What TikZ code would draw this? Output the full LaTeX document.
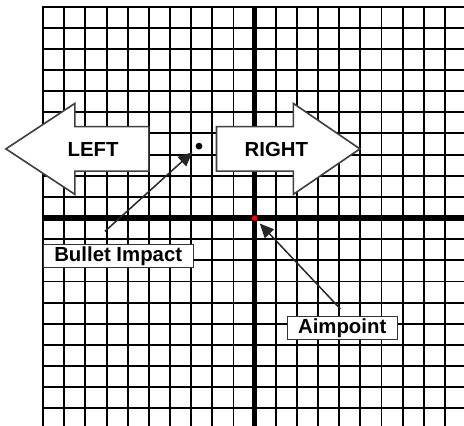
\documentclass[tikz,border=0pt]{standalone}
\usepackage{fontspec}
\setmainfont{Liberation Sans}
\usepackage{tikz}
\usetikzlibrary{arrows.meta}

\begin{document}
\begin{tikzpicture}[x=0.5cm, y=0.5cm,
        gridline/.style={line width=1.3pt, black, line cap=rect},
        axisline/.style={line width=3.8pt, black},
        dirarrow/.style={draw=black!75, line width=1.1pt, fill=white, line join=miter},
        dirlabel/.style={inner sep=0pt, font=\bfseries\fontsize{13.7}{16}\selectfont},
        tag/.style={draw=black!80, line width=0.7pt, fill=white, inner sep=0pt, font=\bfseries\fontsize{13.7}{16}\selectfont},
        pointer/.style={-{Triangle[length=9.5pt, width=8.5pt]}, line width=1pt, black!85}
    ]
        \useasboundingbox (-12.04,-9.83) rectangle (9.9,10.31);

        % target grid
        \begin{scope}
            \clip (-12.04,-9.83) rectangle (9.9,10.31);
            \foreach \x in {-10,...,9}
                \draw[gridline] (\x,-10.5) -- (\x,10);
            \foreach \y in {-9,...,10}
                \draw[gridline] (-10,\y) -- (10.5,\y);
            \draw[axisline] (0,-10.5) -- (0,10);
            \draw[axisline] (-10,0) -- (10.5,0);
        \end{scope}

        % direction arrows
        \draw[dirarrow] (-11.76,3.27) -- (-8.50,5.42) -- (-8.50,4.32) -- (-5,4.32)
            -- (-5,2.22) -- (-8.50,2.22) -- (-8.50,1.12) -- cycle;
        \draw[dirarrow] (4.98,3.27) -- (1.83,5.42) -- (1.83,4.32) -- (-1.80,4.32)
            -- (-1.80,2.22) -- (1.83,2.22) -- (1.83,1.12) -- cycle;
        \node[dirlabel] (leftlbl) at (-7.64,3.22) {LEFT};
        \node[dirlabel] (rightlbl) at (1.03,3.22) {RIGHT};

        % impact and aimpoint
        \node[circle, fill=black, inner sep=0pt, minimum size=0.32cm*0.5] (impact) at (-2.63,3.40) {};
        \node[circle, fill=red, inner sep=0pt, minimum size=0.26cm*0.5] (aim) at (0,0) {};

        \node[tag, minimum width=3.55cm, minimum height=0.55cm] (impactlbl) at (-6.45,-1.80) {Bullet Impact};
        \node[tag, minimum width=2.6cm, minimum height=0.535cm] (aimlbl) at (4.14,-5.2) {Aimpoint};

        \coordinate (impacttail) at (-7.08,-0.63);
        \coordinate (aimtail) at (4.05,-4.29);
        \draw[pointer, shorten >=3.6pt] (impacttail) -- (impact);
        \draw[pointer, shorten >=3pt] (aimtail) -- (aim);
    \end{tikzpicture}
\end{document}
